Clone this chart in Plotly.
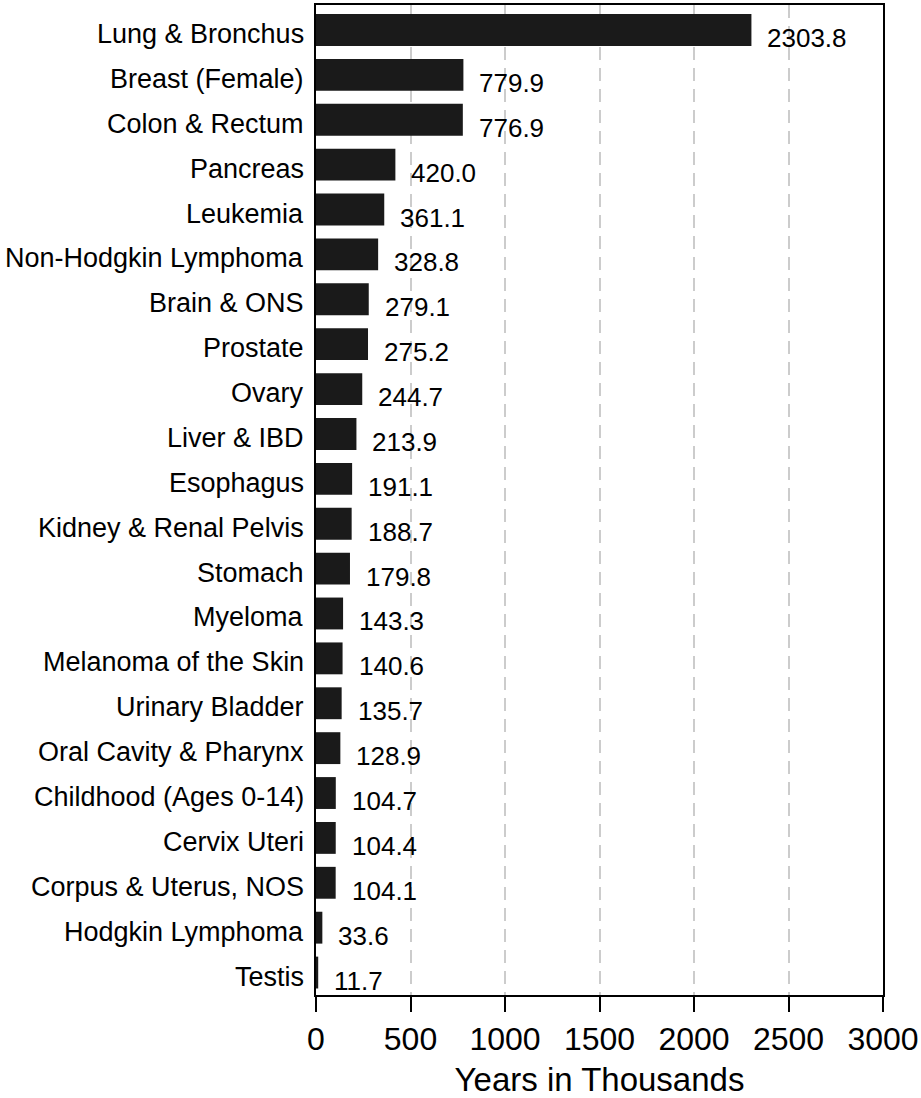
import plotly.graph_objects as go

categories = ["Lung & Bronchus", "Breast (Female)", "Colon & Rectum", "Pancreas", "Leukemia",
              "Non-Hodgkin Lymphoma", "Brain & ONS", "Prostate", "Ovary", "Liver & IBD",
              "Esophagus", "Kidney & Renal Pelvis", "Stomach", "Myeloma", "Melanoma of the Skin",
              "Urinary Bladder", "Oral Cavity & Pharynx", "Childhood (Ages 0-14)", "Cervix Uteri",
              "Corpus & Uterus, NOS", "Hodgkin Lymphoma", "Testis"]
values = [2303.8, 779.9, 776.9, 420.0, 361.1, 328.8, 279.1, 275.2, 244.7, 213.9,
          191.1, 188.7, 179.8, 143.3, 140.6, 135.7, 128.9, 104.7, 104.4, 104.1, 33.6, 11.7]
x_ticks = [0, 500, 1000, 1500, 2000, 2500, 3000]

font = "Liberation Sans, Arial, sans-serif"

fig = go.Figure()
fig.add_trace(go.Bar(
    y=categories, x=values, orientation="h",
    marker=dict(color="#1a1a1a", line=dict(width=0)),
    width=0.71, showlegend=False,
))

for c, v in zip(categories, values):
    # value label
    fig.add_annotation(x=v, y=c, text=f"{v:.1f}", showarrow=False,
                       xanchor="left", yanchor="middle", xshift=14, yshift=-8,
                       font=dict(family=font, size=26, color="black"))
    # category label
    fig.add_annotation(x=0, xref="paper", y=c, text=c, showarrow=False,
                       xanchor="right", yanchor="middle", xshift=-10, yshift=-4,
                       font=dict(family=font, size=27, color="black"))

fig.update_layout(
    width=921, height=1098,
    margin=dict(l=316, r=38, t=5, b=103, autoexpand=False),
    plot_bgcolor="white", paper_bgcolor="white",
    font=dict(family=font, color="black"),
)
fig.update_xaxes(
    range=[0, 3000], tickvals=x_ticks, ticktext=[str(t) for t in x_ticks],
    tickfont=dict(size=32, family=font), ticks="outside", ticklen=15, tickwidth=2,
    tickcolor="black", showline=True, linecolor="black", linewidth=2, mirror=True,
    showgrid=True, gridcolor="#cccccc", griddash="13px,8px", gridwidth=2, zeroline=False,
    title=dict(text="Years in Thousands", font=dict(size=33, family=font), standoff=14),
    automargin=False,
)
fig.update_yaxes(
    autorange="reversed", categoryorder="array", categoryarray=categories,
    showticklabels=False, ticks="",
    showline=True, linecolor="black", linewidth=2, mirror=True, showgrid=False,
    automargin=False,
)

fig.write_html("out.html", config={"displayModeBar": False},
               post_script="document.body.style.margin='0';")
